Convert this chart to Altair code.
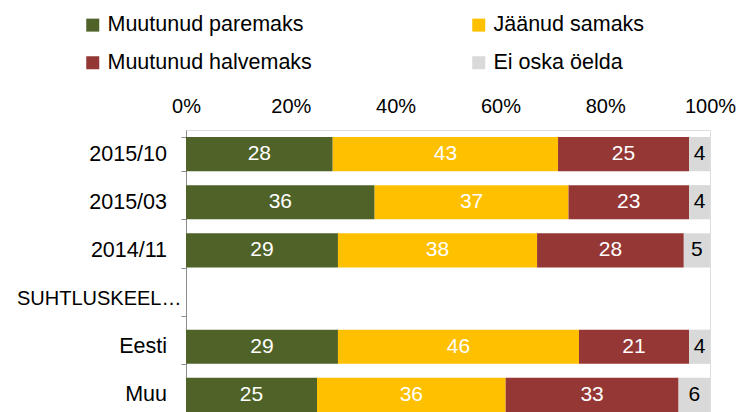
import altair as alt
import pandas as pd

categories = ["2015/10", "2015/03", "2014/11", "SUHTLUSKEEL…", "Eesti", "Muu"]
series = ["Muutunud paremaks", "Jäänud samaks", "Muutunud halvemaks", "Ei oska öelda"]
colors = ["#4F6228", "#FFC000", "#953735", "#D9D9D9"]

rows_with_data = ["2015/10", "2015/03", "2014/11", "Eesti", "Muu"]
paremaks = [28, 36, 29, 29, 25]
samaks = [43, 37, 38, 46, 36]
halvemaks = [25, 23, 28, 21, 33]
ei_oska = [4, 4, 5, 4, 6]

x_ticks = [0, 20, 40, 60, 80, 100]

records = []
for i, cat in enumerate(rows_with_data):
    vals = [paremaks[i], samaks[i], halvemaks[i], ei_oska[i]]
    start = 0
    for j, s in enumerate(series):
        v = vals[j]
        records.append({"cat": cat, "series": s, "order": j, "value": v,
                        "start": start, "end": start + v, "mid": start + v / 2})
        start += v
df = pd.DataFrame(records)

FONT = "Liberation Sans"
FS = 21.5
LONG = "datum.value == 'SUHTLUSKEEL…'"

yscale = alt.Scale(domain=categories, paddingInner=0.29, paddingOuter=0.145)

y_enc = alt.Y("cat:N", scale=yscale,
              axis=alt.Axis(title=None, labelColor="black", labelFont=FONT,
                            labelFontSize={"condition": {"test": LONG, "value": 20}, "value": FS},
                            domainColor="#8c8c8c", tickColor="#8c8c8c", tickSize=5, tickBand="extent",
                            labelPadding={"condition": {"test": LONG, "value": 0}, "value": 14.5},
                            labelLimit=400))

bars = alt.Chart(df).mark_bar().encode(
    x=alt.X("start:Q", scale=alt.Scale(domain=[0, 100], nice=False),
            axis=alt.Axis(orient="top", values=x_ticks, labelExpr="datum.value + '%'", title=None,
                          grid=False, domain=False, ticks=False, tickSize=0, labelPadding=14,
                          labelFlush=False, labelOverlap=False,
                          labelFontSize=20, labelColor="black", labelFont=FONT)),
    x2="end:Q",
    y=y_enc,
    color=alt.Color("series:N", scale=alt.Scale(domain=series, range=colors),
                    legend=alt.Legend(title=None, orient="none", legendX=-104, legendY=-116,
                                      direction="horizontal",
                                      columns=2, columnPadding=156, rowPadding=15,
                                      symbolType="square", symbolSize=169, symbolStrokeWidth=0,
                                      labelFontSize=FS, labelFont=FONT, labelColor="black",
                                      labelOffset=4, labelLimit=400, padding=0)),
    order=alt.Order("order:Q"),
)

labels = alt.Chart(df).mark_text(fontSize=21, font=FONT, baseline="middle", align="center").encode(
    x=alt.X("mid:Q"),
    y=alt.Y("cat:N", scale=yscale),
    text=alt.Text("value:Q"),
    color=alt.condition(alt.datum.series == "Ei oska öelda", alt.value("black"), alt.value("white")),
)

chart = alt.layer(bars, labels).properties(
    width=524, height=289,
    padding={"left": 178, "top": 122, "right": 26, "bottom": 0},
    autosize="none",
).configure_view(stroke=None).configure(background="white")

chart.save("out.html", embed_options={"renderer": "svg", "actions": False})
